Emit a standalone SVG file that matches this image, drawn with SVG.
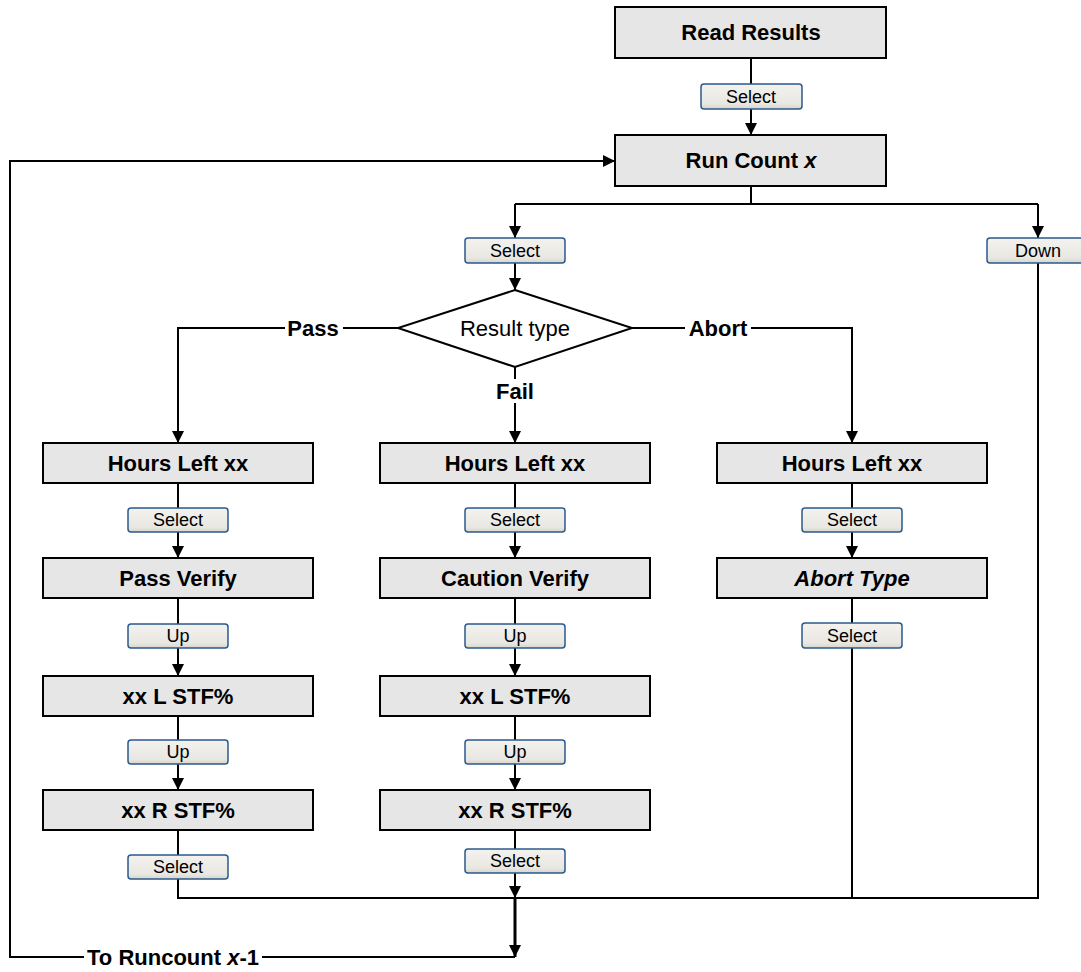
<svg xmlns="http://www.w3.org/2000/svg" width="1081" height="972" viewBox="0 0 1081 972">
<style>
.box{fill:#e6e6e6;stroke:#000;stroke-width:2}
.btn{fill:url(#bg);stroke:#2a5a8c;stroke-width:1.5}
.bt{font-family:"Liberation Sans",Arial,sans-serif;font-size:18px;fill:#000;text-anchor:middle}
.lb{font-family:"Liberation Sans",Arial,sans-serif;font-size:22px;font-weight:bold;fill:#000;text-anchor:middle}
.ln{fill:none;stroke:#000;stroke-width:2}
.arr{marker-end:url(#ah)}
</style>
<defs>
<linearGradient id="bg" x1="0" y1="0" x2="0" y2="1">
<stop offset="0" stop-color="#f3f2ee"/>
<stop offset="0.8" stop-color="#e8e7e2"/>
<stop offset="1" stop-color="#d6d4cc"/>
</linearGradient>
<marker id="ah" viewBox="0 0 12 12" refX="12" refY="6" markerWidth="12" markerHeight="12" markerUnits="userSpaceOnUse" orient="auto">
<path d="M0,0 L12,6 L0,12 z" fill="#000"/>
</marker>
</defs>
<rect width="1081" height="972" fill="#fff"/>

<g id="connectors">
<path class="ln arr" d="M751,58 V135"/>
<path class="ln" d="M751,186 V204"/>
<path class="ln" d="M515,204 H1038"/>
<path class="ln arr" d="M515,204 V238"/>
<path class="ln arr" d="M1038,204 V238"/>
<path class="ln arr" d="M515,263 V290"/>
<path class="ln arr" d="M398,328 H178 V443"/>
<path class="ln arr" d="M632,328 H852 V443"/>
<path class="ln arr" d="M515,367 V443"/>
<path class="ln arr" d="M178,483 V558"/>
<path class="ln arr" d="M178,598 V676"/>
<path class="ln arr" d="M178,716 V790"/>
<path class="ln" d="M178,830 V898 H1038 V263"/>
<path class="ln arr" d="M515,483 V558"/>
<path class="ln arr" d="M515,598 V676"/>
<path class="ln arr" d="M515,716 V790"/>
<path class="ln arr" d="M515,830 V898"/>
<path class="ln arr" d="M852,483 V558"/>
<path class="ln" d="M852,598 V898"/>
<path class="ln arr" d="M515,898 V957" style="stroke-width:3"/>
<path class="ln arr" d="M515,957 H10 V161 H615"/>
</g>

<g id="label-pass"><rect x="285" y="316" width="58" height="24" fill="#fff"/><text class="lb" x="313" y="336">Pass</text></g>
<g id="label-abort"><rect x="685" y="316" width="66" height="24" fill="#fff"/><text class="lb" x="718" y="336">Abort</text></g>
<g id="label-fail"><rect x="494" y="379" width="42" height="24" fill="#fff"/><text class="lb" x="515" y="399">Fail</text></g>
<g id="label-runcount"><rect x="84" y="945" width="178" height="24" fill="#fff"/><text class="lb" x="173" y="965">To Runcount <tspan font-style="italic">x</tspan>-1</text></g>

<g id="read-results"><rect class="box" x="615" y="7" width="271" height="51"/><text class="lb" x="751" y="40">Read Results</text></g>
<g id="btn-select-top"><rect class="btn" x="701" y="84" width="101" height="25" rx="3"/><text class="bt" x="751" y="103">Select</text></g>
<g id="run-count"><rect class="box" x="615" y="135" width="271" height="51"/><text class="lb" x="751" y="168">Run Count <tspan font-style="italic">x</tspan></text></g>
<g id="btn-select-rc"><rect class="btn" x="465" y="238" width="100" height="25" rx="3"/><text class="bt" x="515" y="257">Select</text></g>
<g id="btn-down"><rect class="btn" x="987" y="238" width="101" height="25" rx="3"/><text class="bt" x="1038" y="257">Down</text></g>
<g id="result-type"><polygon points="515,290 632,328 515,367 398,328" fill="#fff" stroke="#000" stroke-width="2"/><text x="515" y="336" font-family="Liberation Sans, Arial, sans-serif" font-size="22" text-anchor="middle">Result type</text></g>

<g id="pass-hours"><rect class="box" x="43" y="443" width="270" height="40"/><text class="lb" x="178" y="471">Hours Left xx</text></g>
<g id="pass-sel1"><rect class="btn" x="128" y="508" width="100" height="24" rx="3"/><text class="bt" x="178" y="526">Select</text></g>
<g id="pass-verify"><rect class="box" x="43" y="558" width="270" height="40"/><text class="lb" x="178" y="586">Pass Verify</text></g>
<g id="pass-up1"><rect class="btn" x="128" y="624" width="100" height="24" rx="3"/><text class="bt" x="178" y="642">Up</text></g>
<g id="pass-l"><rect class="box" x="43" y="676" width="270" height="40"/><text class="lb" x="178" y="704">xx L STF%</text></g>
<g id="pass-up2"><rect class="btn" x="128" y="740" width="100" height="24" rx="3"/><text class="bt" x="178" y="758">Up</text></g>
<g id="pass-r"><rect class="box" x="43" y="790" width="270" height="40"/><text class="lb" x="178" y="818">xx R STF%</text></g>
<g id="pass-sel2"><rect class="btn" x="128" y="855" width="100" height="24" rx="3"/><text class="bt" x="178" y="873">Select</text></g>

<g id="fail-hours"><rect class="box" x="380" y="443" width="270" height="40"/><text class="lb" x="515" y="471">Hours Left xx</text></g>
<g id="fail-sel1"><rect class="btn" x="465" y="508" width="100" height="24" rx="3"/><text class="bt" x="515" y="526">Select</text></g>
<g id="caution-verify"><rect class="box" x="380" y="558" width="270" height="40"/><text class="lb" x="515" y="586">Caution Verify</text></g>
<g id="fail-up1"><rect class="btn" x="465" y="624" width="100" height="24" rx="3"/><text class="bt" x="515" y="642">Up</text></g>
<g id="fail-l"><rect class="box" x="380" y="676" width="270" height="40"/><text class="lb" x="515" y="704">xx L STF%</text></g>
<g id="fail-up2"><rect class="btn" x="465" y="740" width="100" height="24" rx="3"/><text class="bt" x="515" y="758">Up</text></g>
<g id="fail-r"><rect class="box" x="380" y="790" width="270" height="40"/><text class="lb" x="515" y="818">xx R STF%</text></g>
<g id="fail-sel2"><rect class="btn" x="465" y="849" width="100" height="24" rx="3"/><text class="bt" x="515" y="867">Select</text></g>

<g id="abort-hours"><rect class="box" x="717" y="443" width="270" height="40"/><text class="lb" x="852" y="471">Hours Left xx</text></g>
<g id="abort-sel1"><rect class="btn" x="802" y="508" width="100" height="24" rx="3"/><text class="bt" x="852" y="526">Select</text></g>
<g id="abort-type"><rect class="box" x="717" y="558" width="270" height="40"/><text class="lb" x="852" y="586" font-style="italic">Abort Type</text></g>
<g id="abort-sel2"><rect class="btn" x="802" y="623" width="100" height="25" rx="3"/><text class="bt" x="852" y="642">Select</text></g>
</svg>
